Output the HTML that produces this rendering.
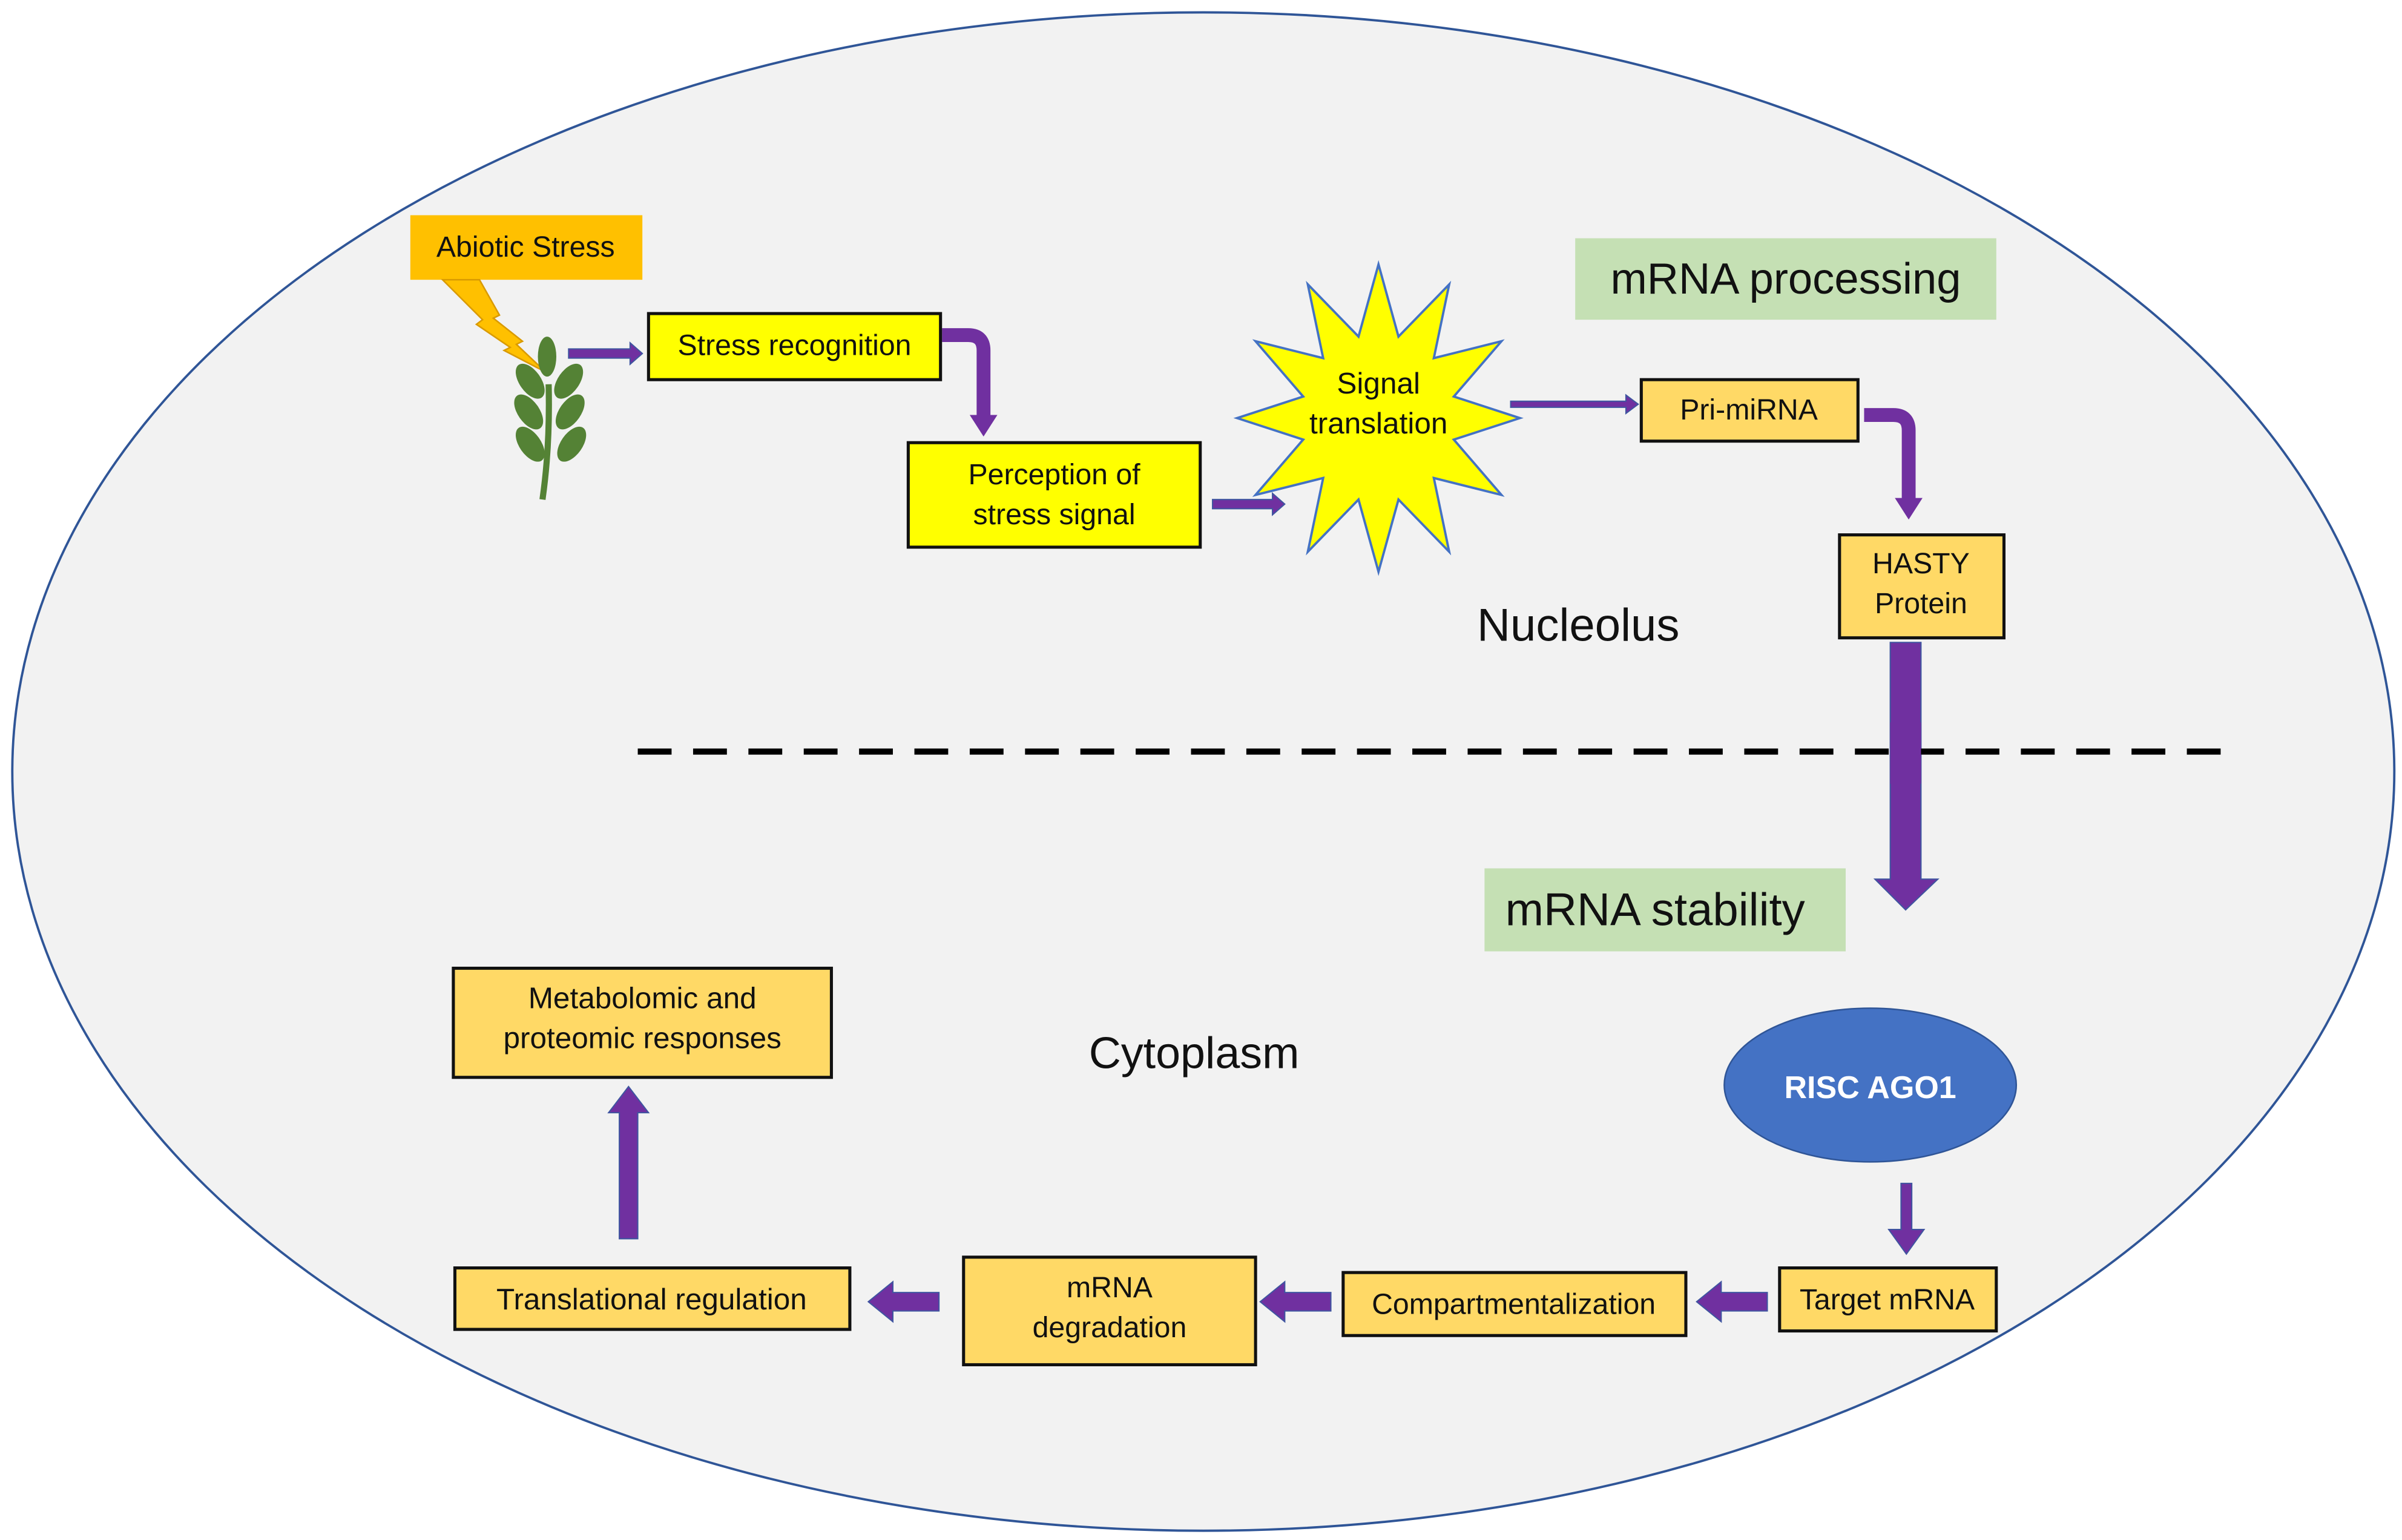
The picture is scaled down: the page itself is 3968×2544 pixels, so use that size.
<!DOCTYPE html>
<html><head><meta charset="utf-8"><style>html,body{margin:0;padding:0;background:#fff}svg{display:block}text{font-family:"Liberation Sans",sans-serif;fill:#111}</style></head>
<body>
<svg width="3968" height="2544" viewBox="0 0 1563 1002" xmlns="http://www.w3.org/2000/svg">
<rect width="1563" height="1002" fill="#fff"/>
<ellipse cx="783" cy="502" rx="775" ry="494" fill="#f2f2f2" stroke="#2f5597" stroke-width="1.5"/>

<!-- Abiotic stress -->
<rect x="267" y="140" width="151" height="42" fill="#ffc000"/>
<text x="342" y="167" font-size="19" text-anchor="middle">Abiotic Stress</text>
<polygon points="288,182 312,182 325,205 321,207 340,222 336,224 355,242 328,228 332,226 310,211 314,208" fill="#ffc000" stroke="#d99a00" stroke-width="1"/>
<!-- plant -->
<path d="M357,250 Q358,290 353,325" stroke="#548235" stroke-width="4" fill="none"/>
<ellipse cx="356" cy="232" rx="6" ry="13" fill="#548235"/>
<g fill="#548235">
<ellipse cx="345" cy="248" rx="7" ry="13" transform="rotate(-35 345 248)"/>
<ellipse cx="370" cy="248" rx="7" ry="13" transform="rotate(35 370 248)"/>
<ellipse cx="344" cy="268" rx="7" ry="13" transform="rotate(-35 344 268)"/>
<ellipse cx="371" cy="268" rx="7" ry="13" transform="rotate(35 371 268)"/>
<ellipse cx="345" cy="289" rx="7" ry="13" transform="rotate(-35 345 289)"/>
<ellipse cx="372" cy="289" rx="7" ry="13" transform="rotate(35 372 289)"/>
</g>

<g fill="#7030a0" stroke="#3f55a0" stroke-width="0.8">
<polygon points="370,227 410,227 410,223 418,230 410,237 410,233 370,233"/>
<polygon points="789,325 828,325 828,321 836,328 828,335 828,331 789,331"/>
<polygon points="983,261 1058,261 1058,257 1066,263 1058,269 1058,265 983,265"/>
<polygon points="1230,418 1250,418 1250,572 1261,572 1240,592 1220,572 1230,572"/>
<polygon points="1237,770 1244,770 1244,800 1252,800 1240.5,816 1229,800 1237,800"/>
<polygon points="1150,841 1120,841 1120,834 1104,847 1120,860 1120,853 1150,853"/>
<polygon points="866,841 836,841 836,834 820,847 836,860 836,853 866,853"/>
<polygon points="611,841 581,841 581,834 565,847 581,860 581,853 611,853"/>
<polygon points="403,806 415,806 415,724 422,724 409,707 396,724 403,724"/>
</g>
<path d="M613,218 L630,218 Q640,218 640,228 L640,272" stroke="#7030a0" stroke-width="9" fill="none"/>
<polygon points="631,270 649,270 640,284" fill="#7030a0"/>
<path d="M1213,270 L1232,270 Q1242,270 1242,280 L1242,326" stroke="#7030a0" stroke-width="9" fill="none"/>
<polygon points="1233,324 1251,324 1242,338" fill="#7030a0"/>

<rect x="422" y="204" width="190" height="43" fill="#ffff00" stroke="#111" stroke-width="2"/>
<text x="517" y="231" font-size="19" text-anchor="middle">Stress recognition</text>
<rect x="591" y="288" width="190" height="68" fill="#ffff00" stroke="#111" stroke-width="2"/>
<text x="686" y="315" font-size="19" text-anchor="middle">Perception of</text>
<text x="686" y="341" font-size="19" text-anchor="middle">stress signal</text>

<polygon points="897,172 910,219 943,185 933,233 977,222 946,258 989,272 946,286 977,322 933,311 943,359 910,325 897,372 884,325 851,359 861,311 817,322 848,286 805,272 848,258 817,222 861,233 851,185 884,219" fill="#ffff00" stroke="#4472c4" stroke-width="1.5"/>
<text x="897" y="256" font-size="19.5" text-anchor="middle">Signal</text>
<text x="897" y="282" font-size="19.5" text-anchor="middle">translation</text>

<rect x="1025" y="155" width="274" height="53" fill="#c5e0b4"/>
<text x="1162" y="191" font-size="28.5" text-anchor="middle">mRNA processing</text>

<g stroke="#111" stroke-width="2" fill="#ffd966">
<rect x="1068" y="247" width="141" height="40"/>
<rect x="1197" y="348" width="107" height="67"/>
<rect x="1158" y="825" width="141" height="41"/>
<rect x="874" y="828" width="223" height="41"/>
<rect x="627" y="818" width="190" height="70"/>
<rect x="296" y="825" width="257" height="40"/>
<rect x="295" y="630" width="246" height="71"/>
</g>
<text x="1138" y="273" font-size="19" text-anchor="middle">Pri-miRNA</text>
<text x="1250" y="373" font-size="19" text-anchor="middle">HASTY</text>
<text x="1250" y="399" font-size="19" text-anchor="middle">Protein</text>
<text x="1027" y="417" font-size="30" text-anchor="middle">Nucleolus</text>

<line x1="415" y1="489" x2="1455" y2="489" stroke="#000" stroke-width="4" stroke-dasharray="22,14"/>
<polygon points="1230,470 1250,470 1250,510 1230,510" fill="#7030a0"/>

<rect x="966" y="565" width="235" height="54" fill="#c5e0b4"/>
<text x="1077" y="602" font-size="30" text-anchor="middle">mRNA stability</text>

<ellipse cx="1217" cy="706" rx="95" ry="50" fill="#4472c4" stroke="#2f5597" stroke-width="1"/>
<text x="1217" y="709" font-size="20.5" font-weight="bold" text-anchor="middle" dominant-baseline="middle" style="fill:#fff">RISC AGO1</text>

<text x="777" y="695" font-size="29" text-anchor="middle">Cytoplasm</text>

<text x="1228" y="852" font-size="19" text-anchor="middle">Target mRNA</text>
<text x="985" y="855" font-size="19" text-anchor="middle">Compartmentalization</text>
<text x="722" y="844" font-size="19" text-anchor="middle">mRNA</text>
<text x="722" y="870" font-size="19" text-anchor="middle">degradation</text>
<text x="424" y="852" font-size="19.5" text-anchor="middle">Translational regulation</text>
<text x="418" y="656" font-size="19.5" text-anchor="middle">Metabolomic and</text>
<text x="418" y="682" font-size="19.5" text-anchor="middle">proteomic responses</text>
</svg>
</body></html>
